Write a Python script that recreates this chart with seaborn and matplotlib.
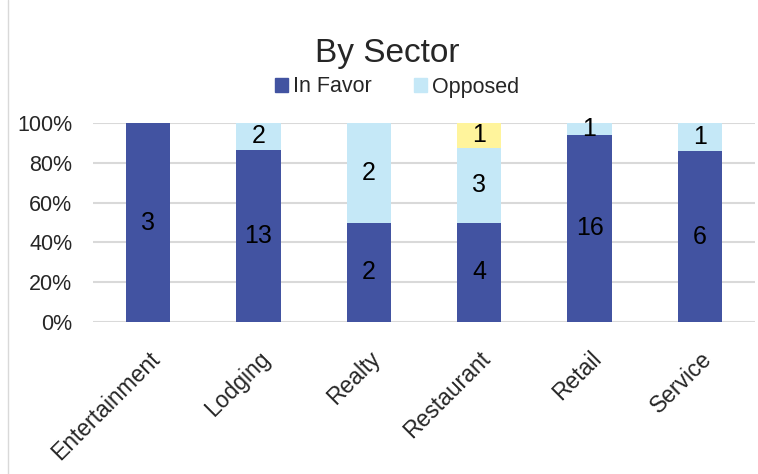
import numpy as np
import pandas as pd
import matplotlib
matplotlib.use("Agg")
import matplotlib.pyplot as plt
import seaborn as sns
from matplotlib.patches import Patch
from matplotlib.lines import Line2D

sectors = ["Entertainment", "Lodging", "Realty", "Restaurant", "Retail", "Service"]
in_favor = [3, 13, 2, 4, 16, 6]
opposed = [0, 2, 2, 3, 1, 1]
other = [0, 0, 0, 1, 0, 0]

sns.set_style("white")
plt.rcParams["font.family"] = ["Liberation Sans", "DejaVu Sans"]

totals = np.array(in_favor) + np.array(opposed) + np.array(other)
df = pd.DataFrame({
    "sector": sectors,
    "fav": np.array(in_favor) / totals,
    "opp": np.array(opposed) / totals,
    "oth": np.array(other) / totals,
})

c_fav, c_opp, c_oth = "#4253A1", "#C5E8F7", "#FFF49C"

fig = plt.figure(figsize=(7.58, 4.74), dpi=100)
ax = fig.add_axes([93 / 758, 1 - 322 / 474, 662 / 758, 199 / 474])

kw = dict(x="sector", width=0.4, ax=ax, saturation=1, linewidth=0)
sns.barplot(data=df, y="fav", color=c_fav, **kw)
sns.barplot(data=df, y="opp", bottom=df["fav"], color=c_opp, **kw)
sns.barplot(data=df, y="oth", bottom=df["fav"] + df["opp"], color=c_oth, **kw)

# count labels in the middle of each segment
for i in range(len(sectors)):
    base = 0
    for cnt, frac in [(in_favor[i], df["fav"][i]), (opposed[i], df["opp"][i]), (other[i], df["oth"][i])]:
        if cnt > 0:
            ax.text(i, base + frac / 2, str(cnt), ha="center", va="center", fontsize=18, color="black")
        base += frac

ticks = np.arange(0, 1.01, 0.2)
ax.set_ylim(0, 1)
ax.set_yticks(ticks)
ax.set_yticklabels([f"{int(round(v * 100))}%" for v in ticks], fontsize=15.5)
ax.set_xlim(-0.5, 5.5)
ax.set_xlabel("")
ax.set_ylabel("")
ax.set_xticks(range(len(sectors)))
ax.set_xticklabels(sectors, rotation=45, ha="right", va="top", rotation_mode="anchor", fontsize=16.5)
ax.tick_params(axis="y", length=0, pad=15)
ax.tick_params(axis="x", length=0, pad=18)
ax.yaxis.grid(True, color="#D9D9D9", linewidth=1.5)
ax.set_axisbelow(True)
for s in ax.spines.values():
    s.set_visible(False)

fig.text(387 / 758, 1 - 62 / 474, "By Sector", ha="center", va="baseline", fontsize=24)
handles = [Patch(color=c_fav, label="In Favor"), Patch(color=c_opp, label="Opposed")]
fig.legend(handles=handles, loc="center", bbox_to_anchor=(397 / 758, 1 - 87 / 474), ncol=2, frameon=False,
           fontsize=15.5, handlelength=0.6, handleheight=0.6, handletextpad=0.2, columnspacing=2.0,
           borderpad=0, borderaxespad=0)

# thin chart border on the left
fig.add_artist(Line2D([8 / 758, 8 / 758], [0, 1], transform=fig.transFigure, color="#D9D9D9", linewidth=1))

fig.savefig("out.png", dpi=100)
